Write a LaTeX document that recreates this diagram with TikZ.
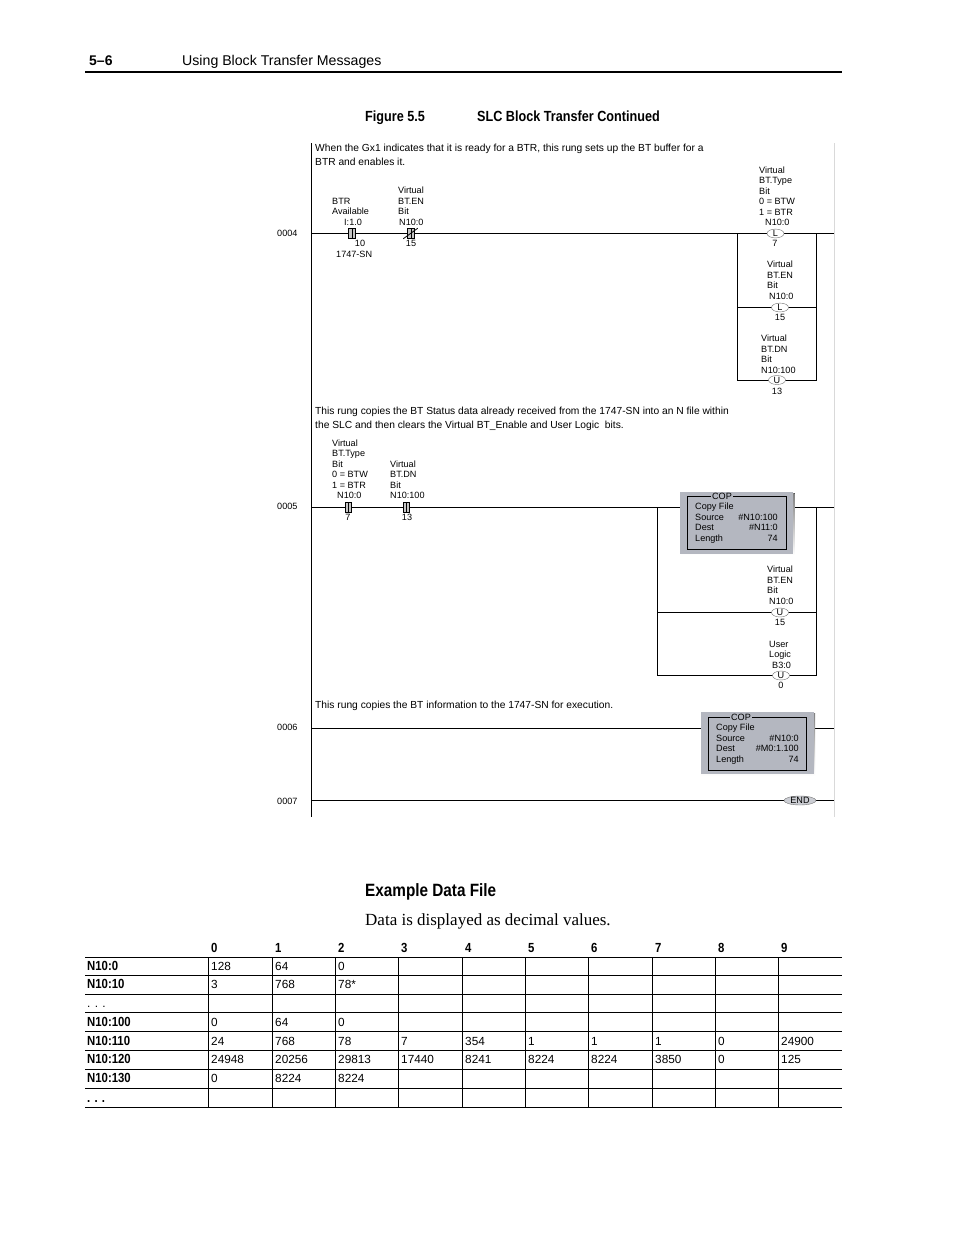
\documentclass[tikz,border=0pt]{standalone}
\usepackage{fontspec}
\usetikzlibrary{shapes.geometric,calc}
\setmainfont{Liberation Sans}
\newfontfamily\serifface{Liberation Serif}
\newfontfamily\condface[FakeStretch=0.86]{Liberation Sans}
\definecolor{copgray}{HTML}{B4B7C0}
\definecolor{shade}{HTML}{55585F}
\definecolor{railgray}{HTML}{D9D9D9}
\newcommand{\ladfont}{\fontsize{9.1}{10.5}\selectfont}
\newcommand{\comfont}{\fontsize{10.25}{12}\selectfont}
\newcommand{\tabfont}{\fontsize{11.8}{13}\selectfont}
\newcommand{\tabbold}{\fontsize{13.2}{14}\selectfont}
\tikzset{
  x=1pt,y=-1pt,
  lad/.style={anchor=base west,inner sep=0pt,font=\ladfont,align=left},
  com/.style={anchor=base west,inner sep=0pt,font=\comfont},
  ladr/.style={anchor=base east,inner sep=0pt,font=\ladfont},
  ladc/.style={anchor=base,inner sep=0pt,font=\ladfont},
  wire/.style={line width=0.8pt,black},
  rail/.style={line width=0.8pt,black},
  coil/.style={ellipse,draw=black!55,line width=0.4pt,fill=white,minimum width=17pt,minimum height=8pt,inner sep=0pt,font=\ladfont},
  endcoil/.style={ellipse,draw=black!55,line width=0.4pt,fill=copgray!70,minimum width=32pt,minimum height=9pt,inner sep=0pt,font=\ladfont},
  contactbox/.style={rectangle,draw=black,line width=0.5pt,fill=gray!45,minimum width=7pt,minimum height=10pt,inner sep=0pt,
    path picture={\draw[black,line width=0.8pt] (path picture bounding box.north) -- (path picture bounding box.south);}},
  copouter/.style={rectangle,fill=copgray,inner sep=0pt,anchor=north west},
  copinner/.style={rectangle,draw=black,line width=0.8pt,inner sep=0pt,anchor=north west},
  coptitle/.style={fill=copgray,inner xsep=1pt,inner ysep=0pt,font=\ladfont},
  cell/.style={anchor=base west,inner sep=0pt,font=\tabfont},
  cellb/.style={anchor=base west,inner sep=0pt,font=\condface\bfseries\tabbold},
  tabline/.style={line width=0.7pt,black},
}
\begin{document}
\begin{tikzpicture}
\useasboundingbox (0,0) rectangle (954,1235);
\fill[white] (0,0) rectangle (954,1235);
% page header
\node[cellb,font=\bfseries\fontsize{14}{15}\selectfont] (pg) at (89,65.5) {5--6};
\node[anchor=base west,inner sep=0pt,font=\fontsize{14.15}{15}\selectfont] (hd) at (182,65.5) {Using Block Transfer Messages};
\coordinate (hl) at (85,72); \coordinate (hr) at (842,72);
\draw[line width=1.5pt] (hl) -- (hr);
\node[anchor=base west,inner sep=0pt,font=\condface\bfseries\fontsize{14.7}{15}\selectfont] (figno) at (365,121.5) {Figure 5.5};
\node[anchor=base west,inner sep=0pt,font=\condface\bfseries\fontsize{14.7}{15}\selectfont] (figt) at (477,121.5) {SLC Block Transfer Continued};
% rails
\coordinate (lt) at (311,143); \coordinate (lb) at (311,817);
\coordinate (rt) at (834,143); \coordinate (rb) at (834,817);
\draw[railgray,line width=0.8pt] (rt) -- (rb);
\draw[rail] (lt) -- (lb);
% rung numbers
\node[lad] (n4) at (277,236) {0004};
\node[lad] (n5) at (277,509) {0005};
\node[lad] (n6) at (277,730) {0006};
\node[lad] (n7) at (277,804) {0007};
% rung 4
\node[com] (c4a) at (315,151.5) {When the Gx1 indicates that it is ready for a BTR, this rung sets up the BT buffer for a};
\node[com] (c4b) at (315,165.5) {BTR and enables it.};
\coordinate (r4l) at (311,233.5); \coordinate (r4r) at (834,233.5);
\coordinate (b4lt) at (737,233.5); \coordinate (b4rt) at (816.5,233.5);
\coordinate (b4lm) at (737,307.5); \coordinate (b4rm) at (816.5,307.5);
\coordinate (b4lb) at (737,380); \coordinate (b4rb) at (816.5,380);
\draw[wire] (r4l) -- (r4r);
\draw[wire] (b4lt) -- (b4lb) -- (b4rb) -- (b4rt);
\draw[wire] (b4lm) -- (b4rm);
\node[contactbox] (k41) at (352,233.5) {};
\node[contactbox] (k42) at (411,233.5) {};
\draw[line width=0.8pt] ($(k42.south west)+(-4,0)$) -- ($(k42.north east)+(3,0)$);
\node[lad] at (332,225) {BTR\\Available\\\hspace*{12pt}I:1.0};
\node[ladc] at (360,246.5) {10};
\node[lad] at (336,257) {1747-SN};
\node[lad] at (398,225) {Virtual\\BT.EN\\Bit\\\hspace*{1pt}N10:0};
\node[ladc] at (411,246.5) {15};
\node[coil] (cl1) at (775.5,233.5) {L};
\node[lad] at (759,225.5) {Virtual\\BT.Type\\Bit\\0 = BTW\\1 = BTR\\\hspace*{6pt}N10:0};
\node[ladc] at (775,246.5) {7};
\node[coil] (cl2) at (780,307.5) {L};
\node[lad] at (767,299) {Virtual\\BT.EN\\Bit\\\hspace*{2pt}N10:0};
\node[ladc] at (780,320) {15};
\node[coil] (cl3) at (777,380) {U};
\node[lad] at (761,373) {Virtual\\BT.DN\\Bit\\N10:100};
\node[ladc] at (777,394) {13};
% rung 5
\node[com] (c5a) at (315,414.5) {This rung copies the BT Status data already received from the 1747-SN into an N file within};
\node[com] (c5b) at (315,428.5) {the SLC and then clears the Virtual BT\_Enable and User Logic\ \ bits.};
\coordinate (r5l) at (311,507.5); \coordinate (r5r) at (834,507.5);
\coordinate (b5lt) at (657.5,507.5); \coordinate (b5rt) at (816.5,507.5);
\coordinate (b5lm) at (657.5,612.5); \coordinate (b5rm) at (816.5,612.5);
\coordinate (b5lb) at (657.5,675.5); \coordinate (b5rb) at (816.5,675.5);
\draw[wire] (r5l) -- (r5r);
\draw[wire] (b5lt) -- (b5lb) -- (b5rb) -- (b5rt);
\draw[wire] (b5lm) -- (b5rm);
\node[contactbox,minimum width=6pt] (k51) at (348,507.5) {};
\node[contactbox,minimum width=6pt] (k52) at (406,507.5) {};
\node[lad] at (332,498.5) {Virtual\\BT.Type\\Bit\\0 = BTW\\1 = BTR\\\hspace*{5pt}N10:0};
\node[ladc] at (348,520) {7};
\node[lad] at (390,498.5) {Virtual\\BT.DN\\Bit\\N10:100};
\node[ladc] at (407,520) {13};
% COP 1
\fill[shade] (681,493) rectangle (794.5,555);
\node[copouter,minimum width=113pt,minimum height=61.5pt] (cop1) at (680,492) {};
\node[copinner,minimum width=98.5pt,minimum height=53pt] (cop1i) at (687,496) {};
\node[coptitle] (cop1t) at (722,496) {COP};
\node[lad] at (695,541) {Copy File\\Source\\Dest\\Length};
\node[ladr] at (778,520) {\#N10:100};
\node[ladr] at (778,530.5) {\#N11:0};
\node[ladr] at (778,541) {74};
\node[coil] (cl4) at (780,612.5) {U};
\node[lad] at (767,604) {Virtual\\BT.EN\\Bit\\\hspace*{2pt}N10:0};
\node[ladc] at (780,625) {15};
\node[coil] (cl5) at (781,675.5) {U};
\node[lad] at (769,668) {User\\Logic\\\hspace*{3pt}B3:0};
\node[ladc] at (781,688) {0};
% rung 6
\node[com] (c6) at (315,708.5) {This rung copies the BT information to the 1747-SN for execution.};
\coordinate (r6l) at (311,728.5); \coordinate (r6r) at (834,728.5);
\draw[wire] (r6l) -- (r6r);
\fill[shade] (701,713) rectangle (815,776);
\node[copouter,minimum width=113pt,minimum height=62pt] (cop2) at (700.5,712) {};
\node[copinner,minimum width=98pt,minimum height=53pt] (cop2i) at (708,717) {};
\node[coptitle] (cop2t) at (741,717) {COP};
\node[lad] at (716,762) {Copy File\\Source\\Dest\\Length};
\node[ladr] at (799,741) {\#N10:0};
\node[ladr] at (799,751.5) {\#M0:1.100};
\node[ladr] at (799,762) {74};
% rung 7
\coordinate (r7l) at (311,800.5); \coordinate (r7r) at (834,800.5);
\draw[wire] (r7l) -- (r7r);
\node[endcoil] (end) at (800,800.5) {END};
% example
\node[anchor=base west,inner sep=0pt,font=\condface\bfseries\fontsize{17.8}{20}\selectfont] (ex) at (365,896) {Example Data File};
\node[anchor=base west,inner sep=0pt,font=\serifface\fontsize{17}{18}\selectfont] (dd) at (365,925) {Data is displayed as decimal values.};
% table lines
\draw[line width=1.5pt] (85,957.5) -- (842,957.5);
\foreach \yy in {975.5,994,1012.5,1031.5,1050,1069.5,1088.5,1107}
  \draw[tabline] (85,\yy) -- (842,\yy);
\foreach \xx in {208.5,272,335.5,398.5,462,525,588.5,652,715,778.5}
  \draw[tabline] (\xx,957.5) -- (\xx,1107);
% table header
\foreach \xx/\vv in {211/0,275/1,338/2,401/3,465/4,528/5,591/6,655/7,718/8,781/9}
  \node[cellb] at (\xx,952) {\vv};
% row heads
\foreach \yy/\vv in {970.5/N10:0,988.5/N10:10,1026.5/N10:100,1045/N10:110,1063/N10:120,1082.5/N10:130}
  \node[cellb] at (87,\yy) {\vv};
\node[cell] at (87,1007) {. . .};
\node[cellb] at (87,1102) {. . .};
% cells
\foreach \xx/\vv in {211/128,275/64,338/0} \node[cell] at (\xx,970.5) {\vv};
\foreach \xx/\vv in {211/3,275/768,338/78*} \node[cell] at (\xx,988.5) {\vv};
\foreach \xx/\vv in {211/0,275/64,338/0} \node[cell] at (\xx,1026.5) {\vv};
\foreach \xx/\vv in {211/24,275/768,338/78,401/7,465/354,528/1,591/1,655/1,718/0,781/24900} \node[cell] at (\xx,1045) {\vv};
\foreach \xx/\vv in {211/24948,275/20256,338/29813,401/17440,465/8241,528/8224,591/8224,655/3850,718/0,781/125} \node[cell] at (\xx,1063) {\vv};
\foreach \xx/\vv in {211/0,275/8224,338/8224} \node[cell] at (\xx,1082.5) {\vv};
\end{tikzpicture}
\end{document}
